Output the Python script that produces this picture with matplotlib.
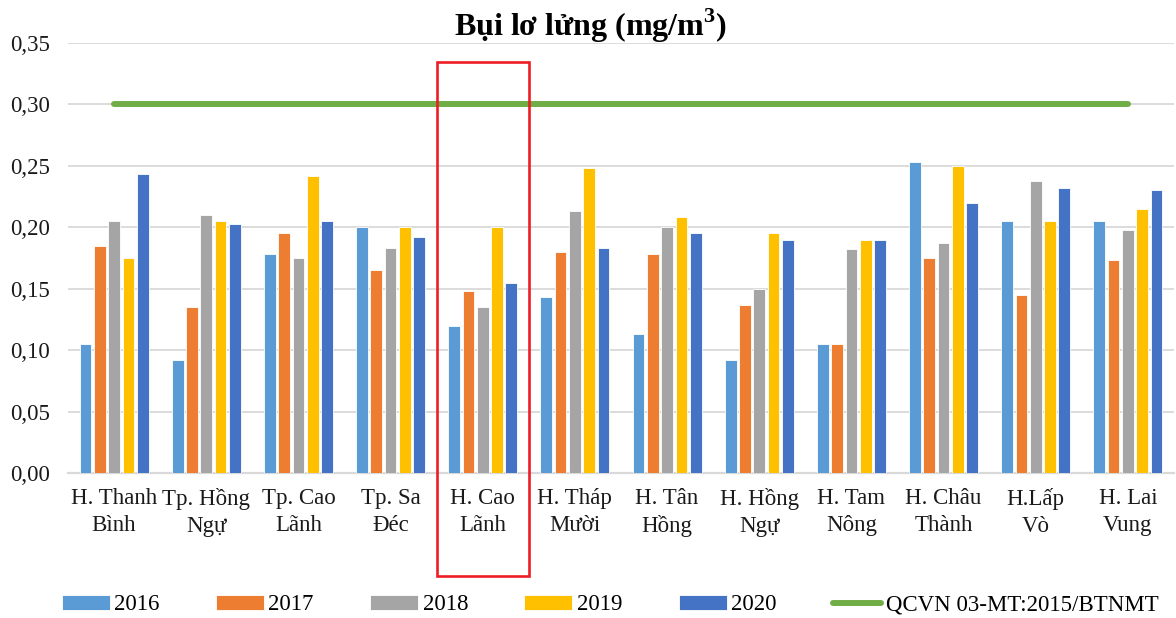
import matplotlib.pyplot as plt
import matplotlib.transforms as mtransforms
from matplotlib.patches import Rectangle
import numpy as np

plt.rcParams['font.family'] = ['Liberation Serif', 'DejaVu Serif']
plt.rcParams['mathtext.fontset'] = 'custom'
plt.rcParams['mathtext.rm'] = 'Liberation Serif'
plt.rcParams['mathtext.bf'] = 'Liberation Serif:bold'

# Data (mg/m3)
categories = ['H. Thanh\nBình', 'Tp. Hồng\nNgự', 'Tp. Cao\nLãnh', 'Tp. Sa\nĐéc',
              'H. Cao\nLãnh', 'H. Tháp\nMười', 'H. Tân\nHồng', 'H. Hồng\nNgự',
              'H. Tam\nNông', 'H. Châu\nThành', 'H.Lấp\nVò', 'H. Lai\nVung']
years = ['2016', '2017', '2018', '2019', '2020']
v2016 = [0.105, 0.092, 0.178, 0.200, 0.120, 0.143, 0.113, 0.092, 0.105, 0.253, 0.205, 0.205]
v2017 = [0.185, 0.135, 0.195, 0.165, 0.148, 0.180, 0.178, 0.137, 0.105, 0.175, 0.145, 0.173]
v2018 = [0.205, 0.210, 0.175, 0.183, 0.135, 0.213, 0.200, 0.150, 0.182, 0.187, 0.238, 0.198]
v2019 = [0.175, 0.205, 0.242, 0.200, 0.200, 0.248, 0.208, 0.195, 0.190, 0.250, 0.205, 0.215]
v2020 = [0.243, 0.203, 0.205, 0.192, 0.155, 0.183, 0.195, 0.190, 0.190, 0.220, 0.232, 0.230]
qcvn = [0.30] * len(categories)
qcvn_label = 'QCVN 03-MT:2015/BTNMT'
highlight = 4  # H. Cao Lãnh

series = [v2016, v2017, v2018, v2019, v2020]
colors = ['#5B9BD5', '#ED7D31', '#A5A5A5', '#FFC000', '#4472C4']

fig = plt.figure(figsize=(11.76, 6.18), dpi=100)
ax = fig.add_axes([68 / 1176, 1 - 473 / 618, 1106 / 1176, 430 / 618])

x = np.arange(len(categories))
step = 0.155
width = 0.127
handles = []
for i, (vals, c, lab) in enumerate(zip(series, colors, years)):
    b = ax.bar(x + (i - 2) * step, vals, width, color=c, edgecolor='white',
               linewidth=0.6, label=lab, zorder=3)
    handles.append(b)

ln, = ax.plot(x, qcvn, color='#70AD47', lw=4.3, solid_capstyle='round',
              label=qcvn_label, zorder=4)
handles.append(ln)

ax.set_xlim(-0.5, len(categories) - 0.5)
ax.set_ylim(0, 0.35)
yt = np.arange(0, 0.351, 0.05)
ax.set_yticks(yt)
ax.set_yticklabels([f'{v:.2f}'.replace('.', ',') for v in yt], fontsize=16.5)
ax.set_xticks(x)
ax.set_xticklabels(categories, fontsize=16.5, linespacing=1.35)
ax.tick_params(axis='both', length=0, colors='#1a1a1a')
ax.tick_params(axis='y', pad=13)
ax.tick_params(axis='x', pad=11)
ax.grid(axis='y', color='#d9d9d9', lw=1.3, zorder=0)
ax.set_axisbelow(True)
for s in ['top', 'right', 'left']:
    ax.spines[s].set_visible(False)
ax.spines['bottom'].set_color('#d9d9d9')
ax.spines['bottom'].set_linewidth(1.6)

fig.text(0.502, 1 - 26 / 618, 'Bụi lơ lửng (mg/m$^{\\mathbf{3}}$)', ha='center', va='center',
         fontsize=23, fontweight='bold')

# red frame around the highlighted district
trans = mtransforms.blended_transform_factory(ax.transData, fig.transFigure)
y0 = 1 - 576 / 618
y1 = 1 - 62 / 618
rect = Rectangle((highlight - 0.5, y0), 1.0, y1 - y0, transform=trans,
                 fill=False, edgecolor='#EE1C25', lw=1.9, clip_on=False, zorder=5)
ax.add_patch(rect)

fig.legend(handles, years + [qcvn_label], loc='center',
           bbox_to_anchor=(610 / 1176, 1 - 605 / 618),
           ncol=6, frameon=False, fontsize=16.5, handlelength=2.1, handleheight=0.6,
           handletextpad=0.2, columnspacing=2.45)

fig.savefig('out.png', dpi=100)
